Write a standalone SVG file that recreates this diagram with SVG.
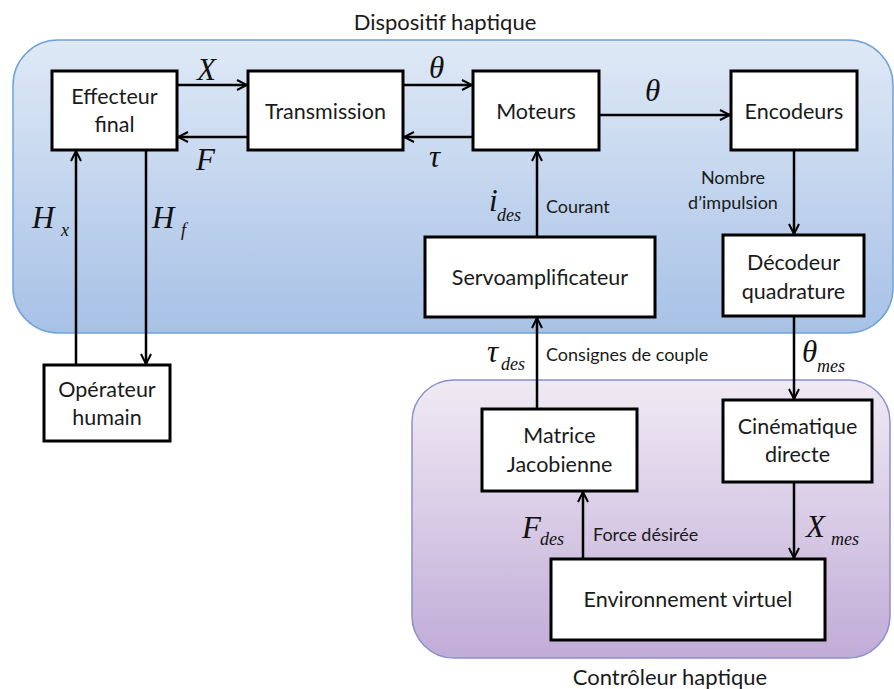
<svg xmlns="http://www.w3.org/2000/svg" width="894" height="689" viewBox="0 0 894 689">
<defs>
<linearGradient id="gBlue" x1="0" y1="0" x2="0" y2="1">
<stop offset="0" stop-color="#dfe9f6"/>
<stop offset="1" stop-color="#a7c1e6"/>
</linearGradient>
<linearGradient id="gPurple" x1="0" y1="0" x2="0" y2="1">
<stop offset="0" stop-color="#f0eaf4"/>
<stop offset="1" stop-color="#c1acd7"/>
</linearGradient>
<marker id="arr" viewBox="0 0 12 12" refX="11" refY="6" markerWidth="12" markerHeight="12" markerUnits="userSpaceOnUse" orient="auto">
<path d="M1,1 L11,6 L1,11" fill="none" stroke="#000" stroke-width="2"/>
</marker>
<style>
.box{fill:#fff;stroke:#000;stroke-width:3}
.t{font-family:Lato,"Open Sans","Liberation Sans",sans-serif;font-size:21.5px;fill:#1a1a1a;text-anchor:middle}
.s{font-family:Lato,"Open Sans","Liberation Sans",sans-serif;font-size:18px;fill:#1a1a1a}
.m{font-family:"Liberation Serif","DejaVu Serif",serif;font-style:italic;font-size:31px;fill:#111}
.sub{font-family:"Liberation Serif","DejaVu Serif",serif;font-style:italic;font-size:18px;fill:#111}
.c{fill:none;stroke:#000;stroke-width:2.5;marker-end:url(#arr)}
</style>
</defs>

<g id="region-dispositif">
<rect x="13" y="40" width="880" height="293" rx="45" fill="url(#gBlue)" stroke="#6fa3d8" stroke-width="1.5"/>
<text x="445" y="30" class="t" style="font-size:22px">Dispositif haptique</text>
</g>
<g id="region-controleur">
<rect x="412" y="380" width="478" height="278" rx="42" fill="url(#gPurple)" stroke="#8a90d0" stroke-width="1.5"/>
<text x="670" y="685" class="t" style="font-size:22px">Contrôleur haptique</text>
</g>

<g id="connectors">
<line x1="177" y1="85" x2="247" y2="85" class="c"/>
<line x1="248" y1="137" x2="178" y2="137" class="c"/>
<line x1="403" y1="85" x2="472" y2="85" class="c"/>
<line x1="473" y1="137" x2="404" y2="137" class="c"/>
<line x1="599" y1="115" x2="730" y2="115" class="c"/>
<line x1="76" y1="365" x2="76" y2="151" class="c"/>
<line x1="146" y1="150" x2="146" y2="364" class="c"/>
<line x1="537" y1="237" x2="537" y2="151" class="c"/>
<line x1="794" y1="150" x2="794" y2="234" class="c"/>
<line x1="537" y1="409" x2="537" y2="318" class="c"/>
<line x1="794" y1="316" x2="794" y2="399" class="c"/>
<line x1="583" y1="559" x2="583" y2="492" class="c"/>
<line x1="794" y1="482" x2="794" y2="558" class="c"/>
</g>

<g id="labels">
<text x="197" y="80" class="m">X</text>
<text x="196" y="170" class="m">F</text>
<text x="429" y="78" class="m">θ</text>
<text x="429" y="167" class="m">τ</text>
<text x="645" y="101" class="m">θ</text>
<text x="32" y="228" class="m">H</text><text x="61" y="236" class="sub">x</text>
<text x="152" y="228" class="m">H</text><text x="181" y="236" class="sub">f</text>
<text x="489" y="211" class="m">i</text><text x="497" y="221" class="sub">des</text>
<text x="546" y="213" class="s">Courant</text>
<text x="733" y="184" class="s" text-anchor="middle">Nombre</text>
<text x="733" y="209" class="s" text-anchor="middle">d’impulsion</text>
<text x="487" y="362" class="m">τ</text><text x="501" y="370" class="sub">des</text>
<text x="546" y="361" class="s">Consignes de couple</text>
<text x="802" y="362" class="m">θ</text><text x="817" y="372" class="sub">mes</text>
<text x="522" y="538" class="m">F</text><text x="540" y="545" class="sub">des</text>
<text x="593" y="541" class="s">Force désirée</text>
<text x="806" y="537" class="m">X</text><text x="831" y="545" class="sub">mes</text>
</g>

<g id="effecteur"><rect x="52" y="71" width="125" height="79" class="box"/><text x="114.5" y="104" class="t">Effecteur</text><text x="114.5" y="132" class="t">final</text></g>
<g id="transmission"><rect x="248" y="71" width="155" height="79" class="box"/><text x="325.5" y="119" class="t">Transmission</text></g>
<g id="moteurs"><rect x="473" y="71" width="126" height="79" class="box"/><text x="536" y="119" class="t">Moteurs</text></g>
<g id="encodeurs"><rect x="731" y="71" width="126" height="79" class="box"/><text x="794" y="119" class="t">Encodeurs</text></g>
<g id="operateur"><rect x="44" y="365" width="126" height="76" class="box"/><text x="107" y="397" class="t">Opérateur</text><text x="107" y="425" class="t">humain</text></g>
<g id="servo"><rect x="425" y="237" width="230" height="80" class="box"/><text x="540" y="285" class="t">Servoamplificateur</text></g>
<g id="decodeur"><rect x="723" y="235" width="141" height="81" class="box"/><text x="793.5" y="270" class="t">Décodeur</text><text x="793.5" y="299" class="t">quadrature</text></g>
<g id="matrice"><rect x="482" y="409" width="155" height="82" class="box"/><text x="559.5" y="443" class="t">Matrice</text><text x="559.5" y="472" class="t">Jacobienne</text></g>
<g id="cinematique"><rect x="723" y="400" width="149" height="82" class="box"/><text x="797.5" y="434" class="t">Cinématique</text><text x="797.5" y="462" class="t">directe</text></g>
<g id="environnement"><rect x="551" y="559" width="274" height="81" class="box"/><text x="688" y="607" class="t">Environnement virtuel</text></g>
</svg>
